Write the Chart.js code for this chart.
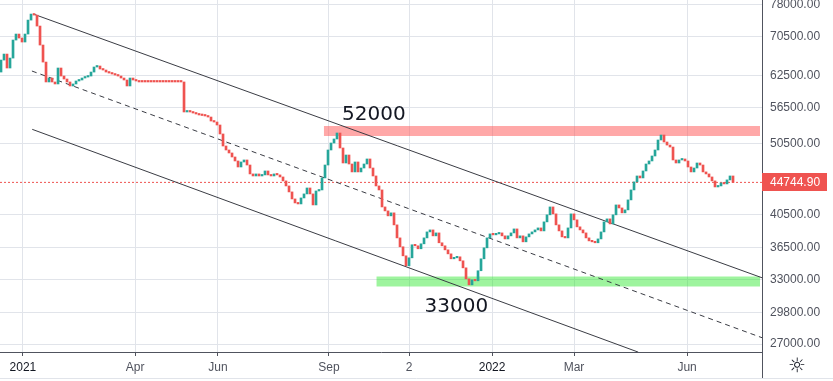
<!DOCTYPE html>
<html>
<head>
<meta charset="utf-8">
<script src="https://cdn.jsdelivr.net/npm/chart.js@4.4.0/dist/chart.umd.min.js"></script>
<style>
  html, body { margin: 0; padding: 0; background: #fff; }
  #wrap { width: 833px; height: 381px; position: relative; }
</style>
</head>
<body>
<div id="wrap"><canvas id="chart" width="833" height="381"></canvas></div>
<script>
// daily closes, one per bar
const closes = [
  65570, 66810, 63960, 65980, 69800, 71120, 70240, 69370, 71120, 74290,
  75700, 75460, 72920, 68720, 65160, 61230, 61990, 61230, 60850, 63960,
  62380, 61800, 61230, 60470, 60850, 61420, 61610, 61990, 62180, 62380,
  63160, 64160, 64360, 63760, 63560, 63160, 62960, 62770, 62570, 62380,
  61990, 61610, 60470, 61990, 61610, 61420, 61230, 61230, 61230, 61230,
  61230, 61230, 61230, 61230, 61230, 61230, 61230, 61230, 61230, 61230,
  61230, 55750, 55920, 55750, 55570, 55400, 55230, 55140, 55060, 54880,
  54200, 54030, 53530, 52050, 50130, 49510, 49050, 48440, 47840, 46950,
  47690, 47990, 47240, 45940, 45650, 45940, 45650, 45800, 46370, 45800,
  45650, 45940, 45800, 45510, 44950, 44250, 43430, 42490, 41960, 41830,
  42620, 43160, 43970, 43160, 41700, 43560, 43700, 45370, 47240, 49510,
  50600, 51240, 52210, 49820, 47540, 48740, 47390, 46230, 47690, 46230,
  46800, 47390, 48140, 46800, 45650, 44250, 43700, 41440, 40930, 40300,
  40680, 39180, 37620, 36590, 35570, 34480, 35350, 36820, 36700, 36360,
  36930, 37620, 38330, 38570, 37860, 38210, 37050, 36700, 36240, 35790,
  35240, 35350, 35460, 35020, 34260, 33100, 32490, 33000, 32900, 33950,
  35240, 36470, 37620, 38090, 37980, 38090, 38210, 37860, 37500, 37860,
  38210, 38690, 37620, 37860, 37160, 37740, 38090, 38330, 38570, 38810,
  38450, 39550, 40430, 41440, 40550, 39180, 38450, 37740, 37620, 38810,
  40550, 39800, 38940, 38570, 38210, 37620, 37270, 37160, 37050, 37500,
  38330, 39550, 39920, 39300, 40430, 41700, 41310, 40680, 41060, 42360,
  43700, 44810, 45650, 45370, 46370, 47390, 47840, 48590, 49510, 51080,
  51880, 50760, 50280, 49970, 47990, 47540, 47990, 48140, 47840, 46950,
  46230, 46800, 47540, 47240, 46230, 45940, 45510, 44950, 44110, 44250,
  44670, 44530, 45090, 45650, 44744.90
];
const firstOpen = 63160;
const lastPrice = closes[closes.length - 1];

const xTickPos = [7.3, 44.7, 72.3, 109.3, 136, 163.7, 191, 228.7];
const xTickLabels = ['2021', 'Apr', 'Jun', 'Sep', '2', '2022', 'Mar', 'Jun'];
const yTicks = [27000, 29800, 33000, 36500, 40500, 50500, 56500, 62500, 70500, 78000];

// channel drawn on the chart (bar index, price)
const upperChannel = [{ x: 10.8, y: 75700 }, { x: 253.7, y: 33210 }];
const midChannel = [{ x: 10.3, y: 63360 }, { x: 253.7, y: 27540 }];
const lowerChannel = [{ x: 10.4, y: 52810 }, { x: 212.4, y: 26330 }];

// horizontal zones
const resistanceZone = { from: 107.6, to: 253, low: 51730, high: 53370 };
const supportZone = { from: 125.1, to: 253, low: 32310, high: 33340 };
const zoneLabels = [
  { text: '52000', x: 124.3, y: 54370 },
  { text: '33000', x: 151.8, y: 29860 }
];

const UP = '#26a69a';
const DOWN = '#ef5350';
const GRID = '#e1e4ea';
const AXIS = '#50535e';
const X_MIN = -0.34, X_MAX = 253.66;

const opens = closes.map((c, i) => i === 0 ? firstOpen : closes[i - 1]);

function zoneDataset(z, color) {
  return {
    type: 'line',
    data: [{ x: z.from, y: z.high }, { x: z.to, y: z.high }],
    fill: { value: z.low },
    backgroundColor: color,
    borderWidth: 0,
    pointRadius: 0
  };
}

function lineDataset(pts, dash) {
  return {
    type: 'line',
    data: pts,
    borderColor: '#3a3c44',
    borderWidth: 1,
    borderDash: dash || [],
    pointRadius: 0,
    fill: false
  };
}

const overlay = {
  id: 'overlay',
  afterDatasetsDraw(chart) {
    const { ctx, scales: { x, y } } = chart;
    ctx.save();
    ctx.fillStyle = '#131722';
    ctx.font = '20px "DejaVu Sans"';
    ctx.textAlign = 'center';
    ctx.textBaseline = 'alphabetic';
    zoneLabels.forEach(l => ctx.fillText(l.text, x.getPixelForValue(l.x), y.getPixelForValue(l.y)));
    ctx.restore();
  },
  afterDraw(chart) {
    const { ctx, chartArea, scales: { y } } = chart;
    ctx.save();
    const py = Math.round(y.getPixelForValue(lastPrice));
    ctx.fillStyle = DOWN;
    ctx.fillRect(chartArea.right, py - 9, 65, 18);
    ctx.fillStyle = '#fff';
    ctx.font = '12px "Liberation Sans"';
    ctx.textAlign = 'left';
    ctx.textBaseline = 'middle';
    ctx.fillText(lastPrice.toFixed(2), chartArea.right + 8, py + 1);
    // axis corner
    ctx.strokeStyle = AXIS;
    ctx.lineWidth = 1;
    ctx.beginPath();
    ctx.moveTo(chartArea.right + 0.5, chartArea.bottom);
    ctx.lineTo(chartArea.right + 0.5, chart.height - 2);
    ctx.stroke();
    ctx.strokeStyle = GRID;
    ctx.beginPath();
    ctx.moveTo(0, chart.height - 2.5);
    ctx.lineTo(chart.width, chart.height - 2.5);
    ctx.stroke();
    ctx.fillStyle = '#131722';
    ctx.font = '20px "DejaVu Sans"';
    ctx.textAlign = 'center';
    ctx.fillText('\u263C', chartArea.right + 35, chartArea.bottom + 15);
    ctx.restore();
  }
};

const ctx = document.getElementById('chart').getContext('2d');
new Chart(ctx, {
  type: 'bar',
  data: {
    datasets: [
      {
        type: 'bar',
        data: closes.map((c, i) => ({ x: i, y: [opens[i], c] })),
        backgroundColor: closes.map((c, i) => c > opens[i] ? UP : DOWN),
        barThickness: 2,
        minBarLength: 1.5,
        borderWidth: 0,
        borderSkipped: false
      },
      lineDataset(upperChannel),
      lineDataset(midChannel, [5, 4]),
      lineDataset(lowerChannel),
      {
        type: 'line',
        data: [{ x: X_MIN, y: lastPrice }, { x: X_MAX, y: lastPrice }],
        borderColor: DOWN,
        borderWidth: 1,
        borderDash: [2, 2],
        pointRadius: 0,
        fill: false
      },
      zoneDataset(resistanceZone, 'rgba(255,82,82,0.5)'),
      zoneDataset(supportZone, 'rgba(40,230,40,0.45)')
    ]
  },
  options: {
    responsive: false,
    animation: false,
    events: [],
    layout: { padding: 0 },
    plugins: { legend: { display: false }, tooltip: { enabled: false } },
    scales: {
      x: {
        type: 'linear',
        min: X_MIN,
        max: X_MAX,
        offset: false,
        afterBuildTicks: s => { s.ticks = xTickPos.map(v => ({ value: v })); },
        afterFit: s => { s.height = 29; s.paddingLeft = 0; s.paddingRight = 0; },
        grid: { color: GRID, tickColor: AXIS, tickLength: 4, offset: false },
        border: { color: AXIS },
        ticks: {
          autoSkip: false,
          maxRotation: 0,
          padding: 4,
          color: ctx => /^\d{4}$/.test(xTickLabels[ctx.index]) ? '#131722' : AXIS,
          font: { family: 'Liberation Sans', size: 12 },
          callback: (v, i) => xTickLabels[i]
        }
      },
      y: {
        type: 'logarithmic',
        position: 'right',
        min: 26340,
        max: 79100,
        afterBuildTicks: s => { s.ticks = yTicks.map(v => ({ value: v })); },
        afterFit: s => { s.width = 71; s.paddingTop = 0; s.paddingBottom = 0; },
        grid: { color: GRID, drawTicks: false },
        border: { color: AXIS },
        ticks: {
          autoSkip: false,
          padding: 8,
          color: AXIS,
          font: { family: 'Liberation Sans', size: 12 },
          callback: v => Number(v).toFixed(2)
        }
      }
    }
  },
  plugins: [overlay]
});
</script>
</body>
</html>
